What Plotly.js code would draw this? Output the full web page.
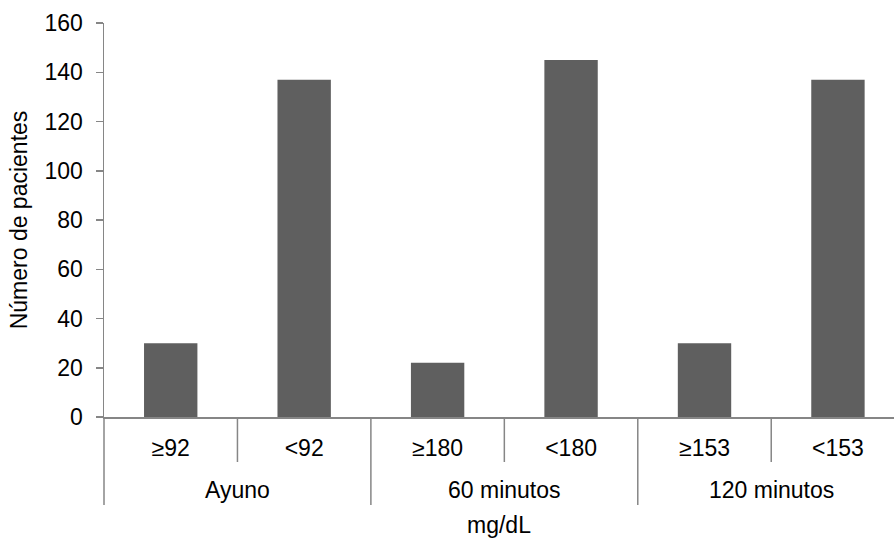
<!DOCTYPE html>
<html>
<head>
<meta charset="utf-8">
<script src="https://cdn.plot.ly/plotly-3.0.1.min.js"></script>
<style>
  html, body { margin: 0; padding: 0; background: #fff; }
  #chart { width: 894px; height: 538px; }
</style>
</head>
<body>
<div id="chart"></div>
<script>
// Glucose thresholds (mg/dL) per measurement time, and patient counts
const categories = ['≥92', '<92', '≥180', '<180', '≥153', '<153'];
const groups = ['Ayuno', 'Ayuno', '60 minutos', '60 minutos', '120 minutos', '120 minutos'];
const pacientes = [30, 137, 22, 145, 30, 137];

const axisGrey = '#868686';
const font = { family: '"Liberation Sans", Arial, sans-serif', size: 23, color: '#000' };

// Divider lines under the category axis: short ones between thresholds,
// long ones between measurement groups.
const shapes = [];
const annotations = [];
for (let i = 0; i < categories.length - 1; i++) {
  const groupEdge = groups[i] !== groups[i + 1];
  shapes.push({
    type: 'line', xref: 'x', x0: i + 0.5, x1: i + 0.5,
    yref: 'paper', ysizemode: 'pixel', yanchor: 0, y0: 0, y1: groupEdge ? -88 : -45,
    line: { color: axisGrey, width: 1.5 }
  });
}
// left edge: y axis line continues down through the label rows
shapes.push({
  type: 'line', xref: 'paper', x0: 0, x1: 0,
  yref: 'paper', ysizemode: 'pixel', yanchor: 0, y0: 0, y1: -88,
  line: { color: axisGrey, width: 1.5 }
});

// group labels centred under their categories
const seen = [];
groups.forEach(g => { if (!seen.includes(g)) seen.push(g); });
seen.forEach(g => {
  const idx = groups.map((v, i) => v === g ? i : -1).filter(i => i >= 0);
  const mid = idx.reduce((a, b) => a + b, 0) / idx.length;
  annotations.push({
    text: g, xref: 'x', x: mid, yref: 'paper', y: 0, yanchor: 'middle',
    yshift: -73, showarrow: false, font: font
  });
});
annotations.push({
  text: 'mg/dL', xref: 'paper', x: 0.5, yref: 'paper', y: 0, yanchor: 'middle',
  yshift: -108, showarrow: false, font: font
});

const trace = {
  type: 'bar',
  x: categories,
  y: pacientes,
  marker: { color: '#5f5f5f', line: { width: 0 } },
  hoverinfo: 'x+y'
};

const layout = {
  width: 894, height: 538,
  margin: { l: 104, r: 0, t: 23, b: 121 },
  paper_bgcolor: '#fff', plot_bgcolor: '#fff',
  font: font,
  bargap: 0.6,
  showlegend: false,
  xaxis: {
    type: 'category',
    range: [-0.5, 5.42],
    showline: true, linecolor: axisGrey, linewidth: 1.5,
    ticks: '', showgrid: false, zeroline: false,
    tickfont: font,
    ticklabelstandoff: 10
  },
  yaxis: {
    range: [0, 160], dtick: 20,
    showline: true, linecolor: axisGrey, linewidth: 1.5,
    ticks: 'outside', ticklen: 7, tickcolor: axisGrey, tickwidth: 1.5,
    showgrid: false, zeroline: false,
    tickfont: font,
    ticklabelstandoff: 8,
    automargin: true,
    title: { text: 'Número de pacientes', font: font, standoff: 10 }
  },
  shapes: shapes,
  annotations: annotations
};

Plotly.newPlot('chart', [trace], layout, { displayModeBar: false, staticPlot: true });
</script>
</body>
</html>
